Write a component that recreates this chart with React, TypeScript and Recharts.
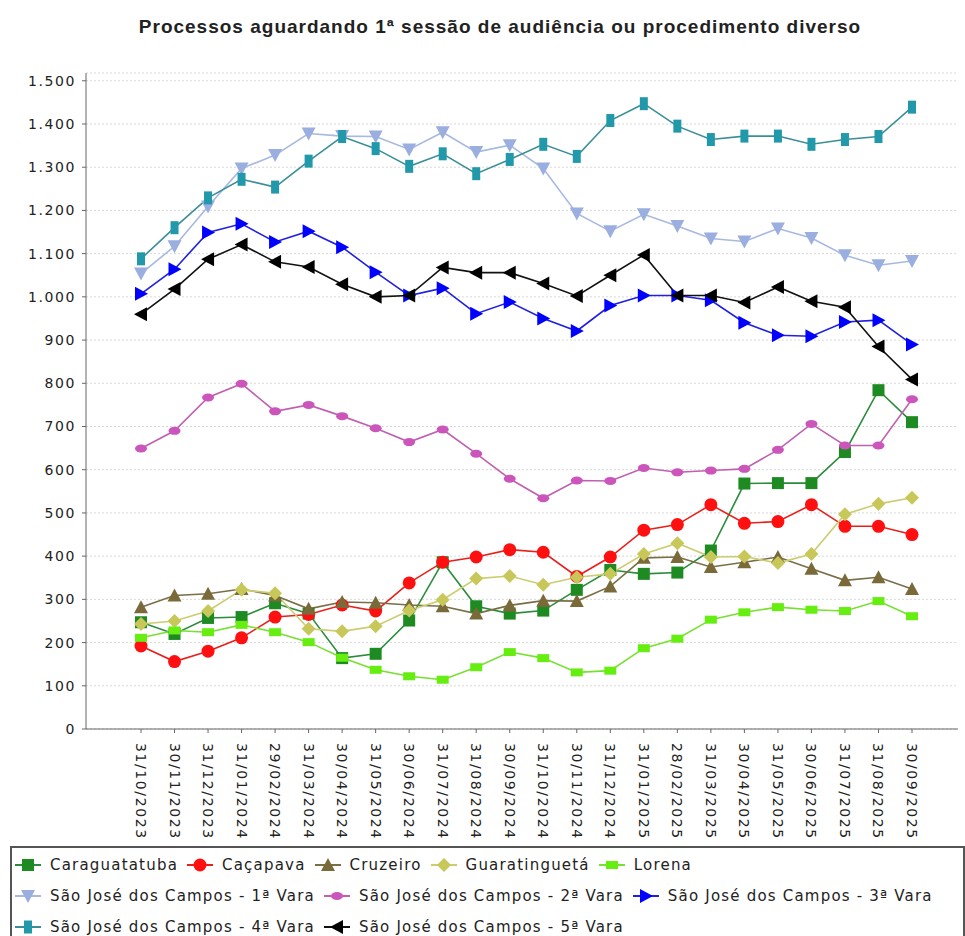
import React from 'react';
import { LineChart, Line, XAxis, YAxis, CartesianGrid } from 'recharts';

const categories = [
  '31/10/2023', '30/11/2023', '31/12/2023', '31/01/2024', '29/02/2024', '31/03/2024',
  '30/04/2024', '31/05/2024', '30/06/2024', '31/07/2024', '31/08/2024', '30/09/2024',
  '31/10/2024', '30/11/2024', '31/12/2024', '31/01/2025', '28/02/2025', '31/03/2025',
  '30/04/2025', '31/05/2025', '30/06/2025', '31/07/2025', '31/08/2025', '30/09/2025',
];

const caraguatatuba = [247, 220, 257, 259, 291, 267, 164, 174, 251, 386, 284, 267, 274, 322, 368, 359, 362, 413, 568, 569, 569, 641, 784, 710];
const cacapava = [192, 156, 180, 211, 259, 265, 287, 273, 338, 386, 398, 415, 409, 353, 398, 460, 473, 519, 476, 480, 519, 469, 469, 450];
const cruzeiro = [282, 309, 313, 324, 309, 278, 294, 292, 287, 284, 267, 286, 297, 296, 330, 396, 398, 375, 386, 398, 371, 344, 351, 324];
const guaratingueta = [243, 250, 273, 322, 314, 232, 226, 238, 274, 299, 348, 354, 334, 351, 359, 405, 430, 398, 399, 384, 405, 497, 521, 535];
const lorena = [211, 228, 224, 241, 224, 201, 165, 137, 122, 114, 143, 178, 164, 131, 135, 187, 209, 253, 270, 282, 276, 273, 296, 261];
const vara1 = [1054, 1117, 1209, 1297, 1328, 1378, 1372, 1371, 1341, 1381, 1335, 1351, 1297, 1193, 1152, 1191, 1164, 1135, 1128, 1158, 1136, 1096, 1073, 1083];
const vara2 = [649, 690, 767, 799, 735, 750, 724, 696, 664, 693, 637, 579, 534, 575, 574, 604, 594, 598, 602, 646, 706, 656, 656, 763];
const vara3 = [1007, 1064, 1149, 1169, 1127, 1152, 1115, 1057, 1003, 1020, 961, 988, 950, 921, 980, 1003, 1003, 992, 940, 911, 909, 942, 946, 890];
const vara4 = [1088, 1160, 1229, 1272, 1254, 1314, 1371, 1343, 1302, 1331, 1285, 1318, 1353, 1325, 1408, 1447, 1395, 1364, 1372, 1372, 1353, 1364, 1371, 1439];
const vara5 = [960, 1018, 1087, 1121, 1081, 1069, 1029, 1000, 1003, 1068, 1056, 1056, 1031, 1002, 1050, 1097, 1003, 1003, 987, 1023, 990, 976, 885, 809];

const yTicks = [0, 100, 200, 300, 400, 500, 600, 700, 800, 900, 1000, 1100, 1200, 1300, 1400, 1500];

const series = [
  { key: 'caraguatatuba', name: 'Caraguatatuba', values: caraguatatuba, color: '#2a8c3a', fill: '#1e8a22', shape: 'square' },
  { key: 'cacapava', name: 'Caçapava', values: cacapava, color: '#e8201c', fill: '#ff1010', shape: 'circle' },
  { key: 'cruzeiro', name: 'Cruzeiro', values: cruzeiro, color: '#7a6e45', fill: '#7a6a3a', shape: 'triangleUp' },
  { key: 'guaratingueta', name: 'Guaratinguetá', values: guaratingueta, color: '#cccc70', fill: '#c8c85a', shape: 'diamond' },
  { key: 'lorena', name: 'Lorena', values: lorena, color: '#77e030', fill: '#66ee11', shape: 'hrect' },
  { key: 'vara1', name: 'São José dos Campos - 1ª Vara', values: vara1, color: '#a8b8e0', fill: '#9aaee0', shape: 'triangleDown' },
  { key: 'vara2', name: 'São José dos Campos - 2ª Vara', values: vara2, color: '#c060b0', fill: '#cc55bb', shape: 'ellipse' },
  { key: 'vara3', name: 'São José dos Campos - 3ª Vara', values: vara3, color: '#2020e0', fill: '#0000ff', shape: 'triangleRight' },
  { key: 'vara4', name: 'São José dos Campos - 4ª Vara', values: vara4, color: '#3a8e98', fill: '#2299aa', shape: 'vrect' },
  { key: 'vara5', name: 'São José dos Campos - 5ª Vara', values: vara5, color: '#111111', fill: '#000000', shape: 'triangleLeft' },
];

const legendRows = [[0, 1, 2, 3, 4], [5, 6, 7], [8, 9]];

const data = categories.map((c, i) => {
  const row: any = { date: c };
  series.forEach(s => { row[s.key] = s.values[i]; });
  return row;
});

const fmt = (v: number) => String(v).replace(/\B(?=(\d{3})+(?!\d))/g, '.');

function Marker({ cx, cy, shape, fill }: any) {
  if (cx == null || cy == null) return null;
  switch (shape) {
    case 'square':
      return <rect x={cx - 6} y={cy - 6} width={12} height={12} fill={fill} />;
    case 'circle':
      return <circle cx={cx} cy={cy} r={6.5} fill={fill} />;
    case 'triangleUp':
      return <polygon points={`${cx},${cy - 7} ${cx + 7},${cy + 6} ${cx - 7},${cy + 6}`} fill={fill} />;
    case 'triangleDown':
      return <polygon points={`${cx - 7},${cy - 6} ${cx + 7},${cy - 6} ${cx},${cy + 7}`} fill={fill} />;
    case 'triangleRight':
      return <polygon points={`${cx - 6},${cy - 7} ${cx + 7},${cy} ${cx - 6},${cy + 7}`} fill={fill} />;
    case 'triangleLeft':
      return <polygon points={`${cx + 6},${cy - 7} ${cx - 7},${cy} ${cx + 6},${cy + 7}`} fill={fill} />;
    case 'diamond':
      return <polygon points={`${cx},${cy - 7} ${cx + 7},${cy} ${cx},${cy + 7} ${cx - 7},${cy}`} fill={fill} />;
    case 'hrect':
      return <rect x={cx - 6} y={cy - 4} width={12} height={8} fill={fill} />;
    case 'vrect':
      return <rect x={cx - 4} y={cy - 6.5} width={8} height={13} fill={fill} />;
    case 'ellipse':
      return <ellipse cx={cx} cy={cy} rx={6} ry={4} fill={fill} />;
    default:
      return null;
  }
}

const DateTick = ({ x, y, payload }: any) => (
  <text
    x={x}
    y={y}
    transform={`rotate(90, ${x}, ${y})`}
    dx={8}
    dy={5}
    textAnchor="start"
    fontFamily="DejaVu Sans"
    fontSize={14}
    letterSpacing={1.6}
    fill="#222"
  >
    {payload.value}
  </text>
);

const LegendIcon = ({ s }: any) => (
  <svg width={26} height={16} style={{ flex: 'none' }}>
    <line x1={0} y1={8} x2={26} y2={8} stroke={s.color} strokeWidth={2} />
    <Marker cx={13} cy={8} shape={s.shape} fill={s.fill} />
  </svg>
);

export default function App() {
  return (
    <div style={{ position: 'absolute', left: 0, top: 0, width: 965, height: 936, overflow: 'hidden', background: '#fff' }}>
      <div
        style={{
          position: 'absolute', left: 35, top: 16, width: 930, textAlign: 'center',
          fontFamily: 'Liberation Sans, Arial, sans-serif', fontWeight: 'bold', fontSize: 19,
          letterSpacing: 1, color: '#222',
        }}
      >
        Processos aguardando 1ª sessão de audiência ou procedimento diverso
      </div>
      <div style={{ position: 'absolute', left: 0, top: 0 }}>
        <LineChart width={965} height={845} data={data} margin={{ top: 73, right: 7, bottom: 0, left: 0 }}>
          <CartesianGrid vertical={false} stroke="#d8d8d8" strokeDasharray="2 2" />
          <XAxis
            dataKey="date"
            interval={0}
            height={116}
            padding={{ left: 55, right: 46 }}
            tick={<DateTick />}
            tickSize={4}
            stroke="#666"
          />
          <YAxis
            width={86}
            domain={[0, 1518]}
            ticks={yTicks}
            tickFormatter={fmt}
            tickSize={4}
            tickMargin={6}
            stroke="#666"
            tick={{ fontFamily: 'DejaVu Sans', fontSize: 14, letterSpacing: 1.6, fill: '#222' }}
          />
          {series.map(s => (
            <Line
              key={s.key}
              dataKey={s.key}
              name={s.name}
              stroke={s.color}
              strokeWidth={1.6}
              isAnimationActive={false}
              dot={(p: any) => <Marker key={`${s.key}-${p.index}`} cx={p.cx} cy={p.cy} shape={s.shape} fill={s.fill} />}
              activeDot={false}
            />
          ))}
        </LineChart>
      </div>
      <div
        style={{
          position: 'absolute', left: 10, top: 846, width: 951, height: 120,
          border: '2px solid #555', background: '#fff',
          fontFamily: 'DejaVu Sans', fontSize: 15, letterSpacing: 1.2, color: '#222',
        }}
      >
        {legendRows.map((row, ri) => (
          <div key={ri} style={{ display: 'flex', alignItems: 'center', height: 31, paddingLeft: 3, marginTop: ri === 0 ? 1 : 0 }}>
            {row.map(i => (
              <div key={i} style={{ display: 'flex', alignItems: 'center', marginRight: 9 }}>
                <LegendIcon s={series[i]} />
                <span style={{ marginLeft: 9, whiteSpace: 'nowrap' }}>{series[i].name}</span>
              </div>
            ))}
          </div>
        ))}
      </div>
    </div>
  );
}
